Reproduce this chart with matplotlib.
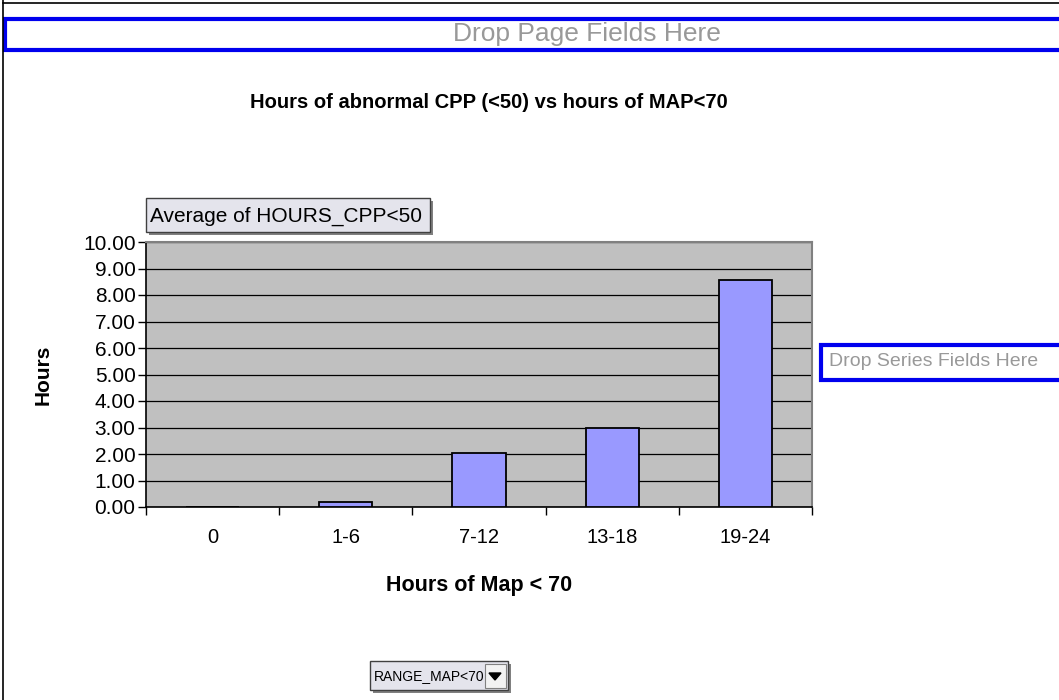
"""Pivot chart: hours of abnormal CPP vs hours of MAP<70"""
import matplotlib.pyplot as plt
from matplotlib.patches import Rectangle, Polygon

plt.rcParams['font.family'] = ['Liberation Sans', 'DejaVu Sans']

categories = ['0', '1-6', '7-12', '13-18', '19-24']
avg_hours_cpp = [0.0, 0.2, 2.05, 3.0, 8.55]
y_ticks = [0, 1, 2, 3, 4, 5, 6, 7, 8, 9, 10]

W, H = 1059, 700
fig = plt.figure(figsize=(W / 100, H / 100), dpi=100)

# overlay in pixel coords for the pivot-table furniture
bg = fig.add_axes([0, 0, 1, 1], zorder=0)
bg.set_xlim(0, W)
bg.set_ylim(H, 0)
bg.axis('off')

def button(x0, y0, x1, y1, label, size=11):
    """grey Excel field button with a shadow"""
    bg.add_patch(Rectangle((x0 + 3, y0 + 3), x1 - x0, y1 - y0, fc='#808080', ec='none'))
    bg.add_patch(Rectangle((x0, y0), x1 - x0, y1 - y0, fc='#e4e4ec', ec='#404040', lw=1))
    bg.text(x0 + 4, (y0 + y1) / 2 + 1, label, fontsize=size, va='center', ha='left', color='black')

# outer frame
bg.plot([3, 3], [0, H], color='black', lw=1.2)
bg.plot([3, W], [3, 3], color='black', lw=1.2)

# page field drop zone
bg.add_patch(Rectangle((5, 19), W, 31, fc='white', ec='#0000ee', lw=3))
bg.text(587, 34, 'Drop Page Fields Here', fontsize=19, color='#999999', ha='center', va='center')

# series field drop zone
bg.add_patch(Rectangle((821, 345), W, 35, fc='white', ec='#0000ee', lw=3))
bg.text(829, 362, 'Drop Series Fields Here', fontsize=14, color='#999999', ha='left', va='center')

bg.text(489, 103, 'Hours of abnormal CPP (<50) vs hours of MAP<70',
        fontsize=14.5, fontweight='bold', ha='center', va='center')

button(146, 198, 430, 232, 'Average of HOURS_CPP<50', size=15)
button(370, 661, 508, 690, 'RANGE_MAP<70', size=10)
bg.add_patch(Rectangle((485, 664), 21, 24, fc='#f2f2f2', ec='#808080', lw=0.8))
bg.add_patch(Polygon([[489, 673], [501, 673], [495, 680]], closed=True, fc='black', ec='black'))

# chart
ax = fig.add_axes([146 / W, (H - 507) / H, (812 - 146) / W, (507 - 242) / H], zorder=1)
ax.set_facecolor('#c0c0c0')
x = list(range(len(categories)))
ax.bar(x, avg_hours_cpp, width=0.4, color='#9999ff', edgecolor='black', lw=1.3, zorder=3)
ax.set_xlim(-0.5, len(categories) - 0.5)
ax.set_ylim(0, 10)
ax.set_yticks(y_ticks)
ax.set_yticklabels([f'{v:.2f}' for v in y_ticks], fontsize=15)
ax.yaxis.grid(True, color='black', lw=0.9, zorder=1)
ax.set_axisbelow(True)

ax.set_xticks(x)
ax.set_xticklabels(categories, fontsize=14.5)
ax.set_xticks([i - 0.5 for i in range(len(categories) + 1)], minor=True)
ax.tick_params(axis='x', which='major', length=0, pad=15)
ax.tick_params(axis='x', which='minor', length=6, width=1, direction='out')
ax.tick_params(axis='y', length=6, width=1, direction='out', pad=1.5)

for side in ('left', 'bottom'):
    ax.spines[side].set_color('black')
    ax.spines[side].set_linewidth(1.2)
for side in ('top', 'right'):
    ax.spines[side].set_color('#808080')
    ax.spines[side].set_linewidth(1.5)

ax.set_xlabel('Hours of Map < 70', fontsize=15.5, fontweight='bold')
ax.xaxis.set_label_coords(0.5, -0.257)
ax.set_ylabel('Hours', fontsize=15, fontweight='bold')
ax.yaxis.set_label_coords(-0.14, 0.5)

fig.savefig('out.png', dpi=100)
